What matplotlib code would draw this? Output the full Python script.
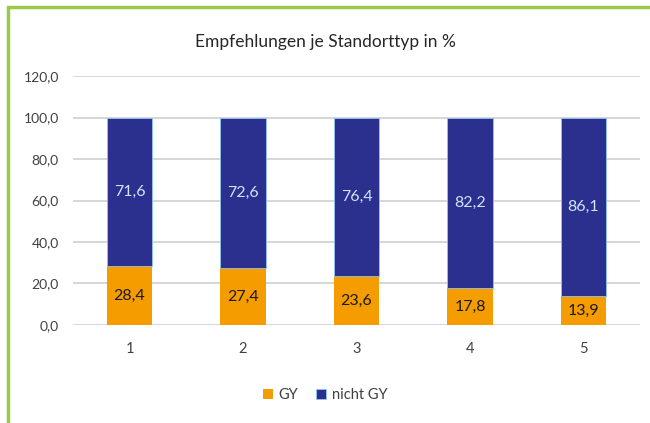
import numpy as np
import matplotlib.pyplot as plt
from matplotlib.patches import Rectangle

plt.rcParams['font.family'] = ['Lato', 'DejaVu Sans']

categories = ['1', '2', '3', '4', '5']
gy = [28.4, 27.4, 23.6, 17.8, 13.9]
nicht_gy = [71.6, 72.6, 76.4, 82.2, 86.1]
yticks = [0, 20, 40, 60, 80, 100, 120]

ORANGE = '#F59C00'
NAVY = '#2B2F8E'

fig = plt.figure(figsize=(6.5, 4.23), dpi=100)
ax = fig.add_axes([0.112, 0.232, 0.873, 0.588])

x = np.arange(len(categories))
b1 = ax.bar(x, gy, width=0.4, color=ORANGE, zorder=3)
b2 = ax.bar(x, nicht_gy, width=0.4, bottom=gy, color=NAVY,
            edgecolor='#8FC8F0', linewidth=0.6, zorder=3)

fmt = lambda v: f'{v:.1f}'.replace('.', ',')
for rect, v in zip(b1, gy):
    ax.text(rect.get_x() + rect.get_width() / 2, v / 2, fmt(v),
            ha='center', va='center', fontsize=11.5, color='#1a1a1a', zorder=4)
for rect, b, v in zip(b2, gy, nicht_gy):
    ax.text(rect.get_x() + rect.get_width() / 2, b + v / 2, fmt(v),
            ha='center', va='center', fontsize=11.5, color='#CFE6F8', zorder=4)

ax.set_xlim(-0.5, 4.5)
ax.set_ylim(0, 120)
ax.set_yticks(yticks)
ax.set_yticklabels([fmt(t) for t in yticks], fontsize=10, color='#404040')
ax.set_xticks(x)
ax.set_xticklabels(categories, fontsize=10.5, color='#404040')
ax.tick_params(length=0)
ax.tick_params(axis='y', pad=10)
ax.tick_params(axis='x', pad=12)
ax.grid(axis='y', color='#D0D0D0', linewidth=1.2, zorder=0)
for s in ax.spines.values():
    s.set_visible(False)

fig.text(0.5, 0.90, 'Empfehlungen je Standorttyp in %', ha='center', va='center',
         fontsize=12.5, color='#262626')

ax.legend([b1, b2], ['GY', 'nicht GY'], loc='center', bbox_to_anchor=(0.5, 0.066),
          bbox_transform=fig.transFigure, ncol=2, frameon=False, fontsize=10.5,
          handlelength=0.7, handleheight=0.7, columnspacing=1.2, handletextpad=0.4,
          labelcolor='#404040')

# green frame (top and left edges visible)
fig.patches.append(Rectangle((0.013, -0.05), 1.1, 1.033, transform=fig.transFigure,
                             fill=False, edgecolor='#9BC94A', linewidth=2.5))

fig.savefig('out.png', dpi=100)
